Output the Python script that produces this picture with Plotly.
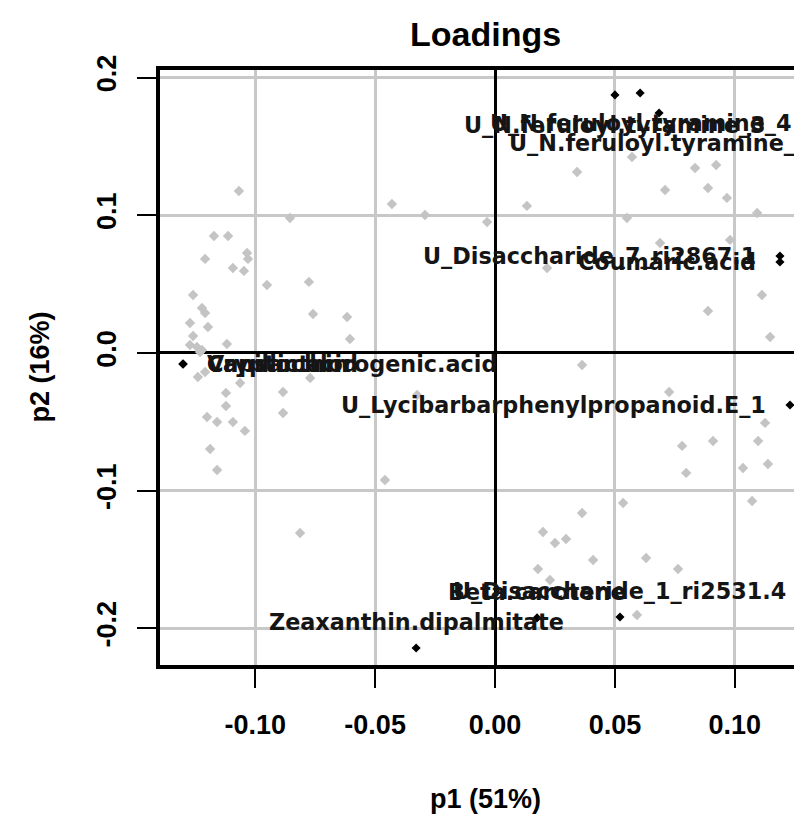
import plotly.graph_objects as go

# PCA loadings: p1 (x) and p2 (y)
grey_p1 = [-0.1068, -0.0855, -0.0430, -0.0292, -0.1172, -0.1113, -0.1034, -0.1030, -0.1209,
           -0.1093, -0.1047, -0.0951, -0.0776, -0.1259, -0.1222, -0.1209, -0.1272, -0.1197,
           -0.0759, -0.0617, -0.0605, -0.1259, -0.1118, -0.1243, -0.1222,
           0.0342, 0.0571, 0.0834, 0.0922, 0.0709, 0.0888, 0.0967, 0.0133, -0.0033, 0.0550,
           0.1093, 0.0688, 0.0980, 0.0217, 0.1113, 0.0888, 0.1147,
           -0.1230, -0.1239, -0.1063, -0.1122, -0.0884, -0.0771, -0.1122, -0.0884, -0.1201,
           -0.1159, -0.1093, -0.1043, -0.1188, -0.1159, -0.0459, -0.0813, -0.0325,
           0.0363, 0.0726, 0.1126, 0.0780, 0.0909, 0.1097, 0.1138, 0.0797, 0.1034, 0.1072,
           0.0534, 0.0363, 0.0200, 0.0250, 0.0296, 0.0409, 0.0630, 0.0763, 0.0179, 0.0229,
           0.0592, -0.1272, -0.1209]
grey_p2 = [0.1176, 0.0980, 0.1082, 0.1002, 0.0850, 0.0850, 0.0726, 0.0683, 0.0683,
           0.0617, 0.0596, 0.0494, 0.0516, 0.0421, 0.0327, 0.0290, 0.0218, 0.0189,
           0.0283, 0.0261, 0.0102, 0.0123, 0.0065, 0.0044, 0.0022,
           0.1314, 0.1423, 0.1343, 0.1365, 0.1184, 0.1198, 0.1126, 0.1068, 0.0951, 0.0980,
           0.1017, 0.0799, 0.0821, 0.0617, 0.0421, 0.0305, 0.0116,
           0.0007, -0.0174, -0.0218, -0.0290, -0.0283, -0.0182, -0.0385, -0.0436, -0.0465,
           -0.0501, -0.0501, -0.0566, -0.0697, -0.0850, -0.0922, -0.1307, -0.0305,
           -0.0087, -0.0283, -0.0508, -0.0675, -0.0639, -0.0639, -0.0806, -0.0871, -0.0835, -0.1075,
           -0.1089, -0.1162, -0.1300, -0.1380, -0.1351, -0.1503, -0.1489, -0.1569, -0.1569, -0.1649,
           -0.1903, 0.0058, -0.0138]

named = ["U_N.feruloyl.tyramine_3", "U_N.feruloyl.tyramine_4", "U_N.feruloyl.tyramine_1",
         "U_Disaccharide_7_ri2867.1", "Coumaric.acid", "U_Lycibarbarphenylpropanoid.E_1",
         "U_Disaccharide_1_ri2531.4", "Beta.carotene", "Zeaxanthin.dipalmitate",
         "Cryptochlorogenic.acid", "Capsanthin", "Vanillic.acid"]
named_p1 = [0.0500, 0.0605, 0.0684, 0.1188, 0.1188, 0.1230, 0.0521, 0.0175, -0.0329,
            -0.1301, -0.1301, -0.1301]
named_p2 = [0.1874, 0.1888, 0.1743, 0.0704, 0.0661, -0.0378, -0.1917, -0.1924, -0.2142,
            -0.0080, -0.0080, -0.0080]
# R text() pos: 1 below, 2 left, 3 above, 4 right
named_pos = [1, 1, 1, 2, 2, 2, 3, 3, 3, 4, 4, 4]

x_ticks = [-0.10, -0.05, 0.00, 0.05, 0.10]
x_ticklabels = ["-0.10", "-0.05", "0.00", "0.05", "0.10"]
y_ticks = [-0.2, -0.1, 0.0, 0.1, 0.2]
y_ticklabels = ["-0.2", "-0.1", "0.0", "0.1", "0.2"]

bold = dict(family="Liberation Sans, Arial", color="black", weight="bold")
lab_font = dict(family="DejaVu Sans", size=22.3, color="#151515", weight="bold")

fig = go.Figure()
fig.add_trace(go.Scatter(x=grey_p1, y=grey_p2, mode="markers", hoverinfo="skip",
                         marker=dict(symbol="diamond", size=8, color="#c4c4c4")))
fig.add_trace(go.Scatter(x=named_p1, y=named_p2, mode="markers", text=named, hoverinfo="text",
                         marker=dict(symbol="diamond", size=7, color="black")))

offsets = {1: dict(xanchor="center", xshift=0, yshift=-30),
           2: dict(xanchor="right", xshift=-22, yshift=0),
           3: dict(xanchor="center", xshift=0, yshift=26),
           4: dict(xanchor="left", xshift=22, yshift=0)}
annotations = []
for name, px, py, pos in zip(named, named_p1, named_p2, named_pos):
    annotations.append(dict(x=px, y=py, xref="x", yref="y", text=name, showarrow=False,
                            yanchor="middle", font=lab_font, **offsets[pos]))

# page body has an 8px margin, so the figure is laid out 8px smaller / shifted
mid = (478 - 152) / 642
annotations += [
    dict(x=mid, y=1, xref="paper", yref="paper", text="Loadings", showarrow=False,
         yanchor="middle", yshift=36, font=dict(bold, size=34)),
    dict(x=mid, y=0, xref="paper", yref="paper", text="p1 (51%)", showarrow=False,
         yanchor="middle", yshift=-134, font=dict(bold, size=27)),
    dict(x=0, y=0.5, xref="paper", yref="paper", text="p2 (16%)", showarrow=False,
         xanchor="center", xshift=-121, textangle=-90, font=dict(bold, size=27)),
]

fig.update_layout(
    width=794, height=808,
    margin=dict(l=152, r=0, t=62, b=151, autoexpand=False),
    plot_bgcolor="white", paper_bgcolor="white",
    showlegend=False, hovermode="closest",
    annotations=annotations,
)
fig.update_xaxes(range=[-0.1397, 0.1280], tickvals=x_ticks, ticktext=x_ticklabels,
                 automargin=False,
                 ticks="outside", ticklen=19, tickwidth=2, tickcolor="black",
                 showgrid=True, gridcolor="#c8c8c8", gridwidth=3,
                 zeroline=True, zerolinecolor="black", zerolinewidth=2.5,
                 showline=True, linecolor="black", linewidth=3.5, mirror=True,
                 tickfont=dict(bold, size=27), ticklabelstandoff=14)
fig.update_yaxes(range=[-0.2266, 0.2055], tickvals=y_ticks, ticktext=y_ticklabels,
                 automargin=False,
                 ticks="outside", ticklen=19, tickwidth=2, tickcolor="black", tickangle=-90,
                 showgrid=True, gridcolor="#c8c8c8", gridwidth=3,
                 zeroline=True, zerolinecolor="black", zerolinewidth=2.5,
                 showline=True, linecolor="black", linewidth=3.5, mirror=False,
                 tickfont=dict(bold, size=27), ticklabelstandoff=10)

fig.write_html("out.html")
